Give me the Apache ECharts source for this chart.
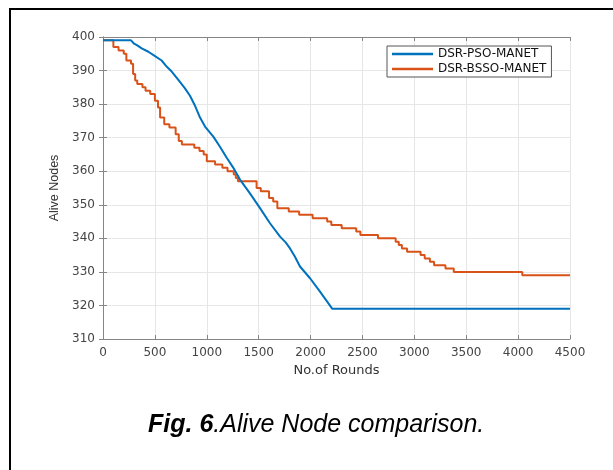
<!DOCTYPE html>
<html>
<head>
<meta charset="utf-8">
<script src="https://cdn.jsdelivr.net/npm/echarts@6/dist/echarts.min.js"></script>
<style>
  html, body { margin: 0; padding: 0; background: #fff; }
  #chart { width: 613px; height: 470px; }
</style>
</head>
<body>
<div id="chart"></div>
<script>
// values
const psoRounds = [0, 270, 300, 330, 373, 437, 501, 565, 613, 662, 726, 790, 838, 887, 935, 983, 1063, 1127, 1192, 1256, 1320, 1416, 1513, 1609, 1706, 1760, 1802, 1850, 1898, 1995, 2091, 2210, 4500];
const psoAlive = [399, 399, 398, 397.5, 396.6, 395.6, 394.3, 393, 391.2, 389.7, 387.2, 384.7, 382.5, 379.5, 376, 373.3, 370.3, 367.3, 364, 361, 357.5, 353.4, 349, 344.5, 340.5, 338.8, 337, 334.5, 331.6, 328.1, 324.1, 319, 319];

const bssoRounds = [0, 100, 150, 200, 225, 270, 290, 310, 330, 380, 410, 455, 500, 530, 550, 590, 640, 700, 730, 760, 880, 930, 970, 1000, 1080, 1150, 1200, 1260, 1280, 1300, 1480, 1520, 1600, 1640, 1680, 1790, 1890, 2020, 2160, 2200, 2300, 2440, 2480, 2650, 2820, 2850, 2880, 2930, 3060, 3100, 3150, 3190, 3300, 3380, 4040, 4500];
const bssoAlive = [399, 397, 396, 395, 393, 392, 389, 387, 386, 385, 384, 383, 381, 379, 376, 374, 373, 371, 369, 368, 367, 366, 365, 363, 362, 361, 360, 359, 358, 357, 355, 354, 352, 351, 349, 348, 347, 346, 345, 344, 343, 342, 341, 340, 339, 338, 337, 336, 335, 334, 333, 332, 331, 330, 329, 329];

const seriesNames = ['DSR-PSO-MANET', 'DSR-BSSO-MANET'];
const colors = ['#0072BD', '#D95319'];

const zip = (xs, ys) => xs.map((x, i) => [x, ys[i]]);

const chart = echarts.init(document.getElementById('chart'));

const axisGray = '#858585';
const labelFont = { fontFamily: 'DejaVu Sans', fontSize: 12, color: '#444' };

const option = {
  backgroundColor: '#fff',
  animation: false,
  grid: { left: 103, right: 43, top: 37, bottom: 131 },
  title: {
    left: 143,
    top: 408,
    text: '{b|Fig. 6}{n|.Alive Node comparison.}',
    textStyle: {
      rich: {
        b: { fontFamily: 'Liberation Sans', fontSize: 25, fontWeight: 'bold', fontStyle: 'italic', color: '#000' },
        n: { fontFamily: 'Liberation Sans', fontSize: 25, fontWeight: 'normal', fontStyle: 'italic', color: '#000' }
      }
    }
  },
  legend: {
    left: 387,
    top: 46,
    orient: 'vertical',
    padding: [1, 5, 1, 5],
    itemGap: 1,
    itemWidth: 41,
    itemHeight: 2.5,
    icon: 'rect',
    borderColor: '#555',
    borderWidth: 1,
    backgroundColor: '#fff',
    textStyle: { fontFamily: 'DejaVu Sans', fontSize: 12, color: '#111', lineHeight: 14 },
    data: seriesNames
  },
  xAxis: [
    {
      type: 'value', min: 0, max: 4500, interval: 500,
      name: 'No.of Rounds', nameLocation: 'middle', nameGap: 23,
      nameTextStyle: { fontFamily: 'DejaVu Sans', fontSize: 13, color: '#333' },
      axisLine: { show: true, lineStyle: { color: axisGray } },
      axisTick: { show: true, inside: true, length: 4, lineStyle: { color: axisGray } },
      axisLabel: Object.assign({ margin: 8, formatter: v => String(v) }, labelFont),
      splitLine: { show: true, lineStyle: { color: '#e6e6e6' } }
    },
    {
      type: 'value', min: 0, max: 4500, interval: 500, position: 'top',
      axisLine: { show: true, lineStyle: { color: axisGray } },
      axisTick: { show: true, inside: true, length: 4, lineStyle: { color: axisGray } },
      axisLabel: { show: false },
      splitLine: { show: false }
    }
  ],
  yAxis: [
    {
      type: 'value', min: 310, max: 400, interval: 10,
      name: 'Alive Nodes', nameLocation: 'middle', nameGap: 38, nameRotate: 90,
      nameTextStyle: { fontFamily: 'Liberation Sans', fontSize: 12.5, color: '#333' },
      axisLine: { show: true, lineStyle: { color: axisGray } },
      axisTick: { show: true, inside: true, length: 4, lineStyle: { color: axisGray } },
      axisLabel: Object.assign({ margin: 8 }, labelFont),
      splitLine: { show: true, lineStyle: { color: '#e6e6e6' } }
    },
    {
      type: 'value', min: 310, max: 400, interval: 10, position: 'right',
      axisLine: { show: true, lineStyle: { color: axisGray } },
      axisTick: { show: true, inside: true, length: 4, lineStyle: { color: axisGray } },
      axisLabel: { show: false },
      splitLine: { show: false }
    }
  ],
  series: [
    {
      name: seriesNames[0], type: 'line', symbol: 'none',
      data: zip(psoRounds, psoAlive),
      itemStyle: { color: colors[0] },
      lineStyle: { color: colors[0], width: 2 },
      z: 3
    },
    {
      name: seriesNames[1], type: 'line', symbol: 'none', step: 'end',
      data: zip(bssoRounds, bssoAlive),
      itemStyle: { color: colors[1] },
      lineStyle: { color: colors[1], width: 2 },
      z: 2
    }
  ],
  graphic: [
    {
      type: 'polyline',
      shape: { points: [[10, 470], [10, 9], [613, 9]] },
      style: { stroke: '#000', lineWidth: 2, fill: null },
      silent: true
    }
  ]
};

chart.setOption(option);
</script>
</body>
</html>
